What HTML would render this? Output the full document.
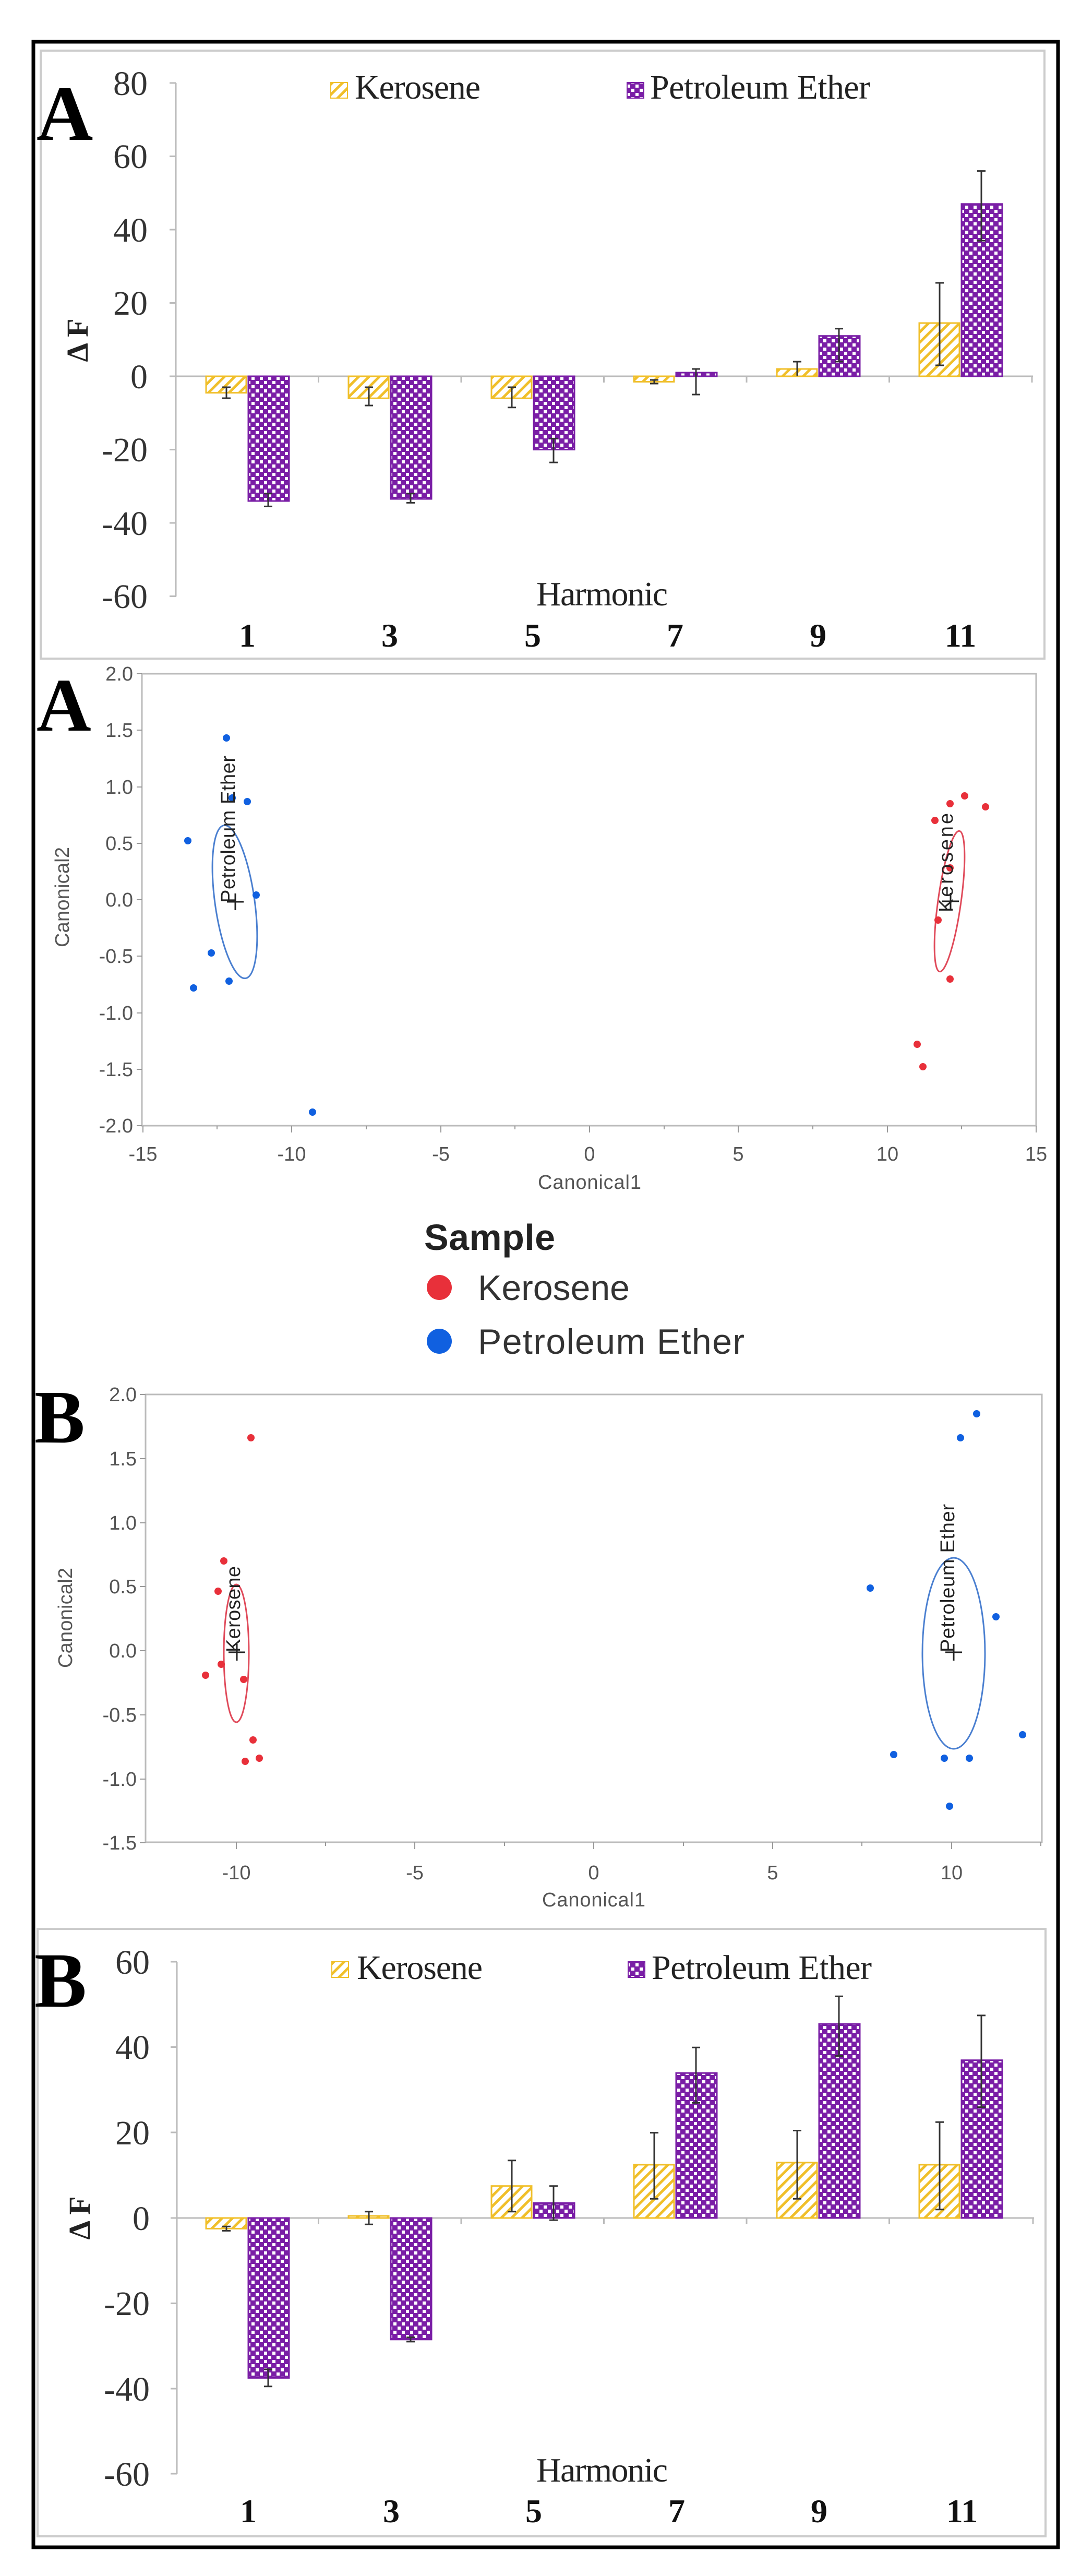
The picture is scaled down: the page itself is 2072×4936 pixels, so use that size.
<!DOCTYPE html>
<html><head><meta charset="utf-8"><style>html,body{margin:0;padding:0;background:#fff}svg{display:block}</style></head>
<body>
<svg width="2072" height="4936" viewBox="0 0 2072 4936" xmlns="http://www.w3.org/2000/svg">
<defs>
<pattern id="hat" patternUnits="userSpaceOnUse" width="14" height="14" patternTransform="rotate(45)">
<rect width="14" height="14" fill="#fff"/><rect x="0" y="0" width="5" height="14" fill="#f0bf2a"/></pattern>
<pattern id="chk" patternUnits="userSpaceOnUse" width="16" height="16">
<rect width="16" height="16" fill="#7a1ea6"/><rect x="2" y="2" width="6" height="6" fill="#fff"/><rect x="10" y="10" width="6" height="6" fill="#fff"/></pattern>
</defs>
<rect x="0" y="0" width="2072" height="4936" fill="#fff"/>
<rect x="64" y="80" width="1964" height="4801" fill="none" stroke="#000" stroke-width="7"/>
<!-- panel frames -->
<rect x="78" y="97" width="1924" height="1165" fill="none" stroke="#ccc" stroke-width="4"/>
<rect x="72" y="3696" width="1932" height="1164" fill="none" stroke="#ccc" stroke-width="4"/>

<!-- ========== Bar chart A ========== -->
<g font-family="Liberation Serif, serif" fill="#222">
<text x="70" y="268" font-size="150" font-weight="bold" fill="#000">A</text>
<g stroke="#bbb" stroke-width="3">
<line x1="337" y1="159" x2="337" y2="1143"/>
<line x1="325" y1="159" x2="337" y2="159"/><line x1="325" y1="299.5" x2="337" y2="299.5"/><line x1="325" y1="440" x2="337" y2="440"/><line x1="325" y1="580.5" x2="337" y2="580.5"/><line x1="325" y1="721" x2="337" y2="721"/><line x1="325" y1="861.5" x2="337" y2="861.5"/><line x1="325" y1="1002" x2="337" y2="1002"/><line x1="325" y1="1142.5" x2="337" y2="1142.5"/>
<line x1="337" y1="721" x2="1980" y2="721"/>
<line x1="610.5" y1="721" x2="610.5" y2="733"/><line x1="884" y1="721" x2="884" y2="733"/><line x1="1157.5" y1="721" x2="1157.5" y2="733"/><line x1="1431" y1="721" x2="1431" y2="733"/><line x1="1704.5" y1="721" x2="1704.5" y2="733"/><line x1="1978" y1="721" x2="1978" y2="733"/>
</g>
<g font-size="66" text-anchor="end" fill="#333">
<text x="283" y="182">80</text><text x="283" y="322">60</text><text x="283" y="463">40</text><text x="283" y="603">20</text><text x="283" y="744">0</text><text x="283" y="884">-20</text><text x="283" y="1025">-40</text><text x="283" y="1165">-60</text>
</g>
<text transform="translate(168,652) rotate(-90)" font-size="58" font-weight="bold" text-anchor="middle">Δ F</text>
<rect x="634" y="158" width="32" height="30" fill="url(#hat)" stroke="#f0bf2a" stroke-width="2"/>
<text x="680" y="189" font-size="66" textLength="241">Kerosene</text>
<rect x="1202" y="158" width="32" height="30" fill="url(#chk)" stroke="#7a1ea6" stroke-width="2"/>
<text x="1246" y="189" font-size="66" textLength="422">Petroleum Ether</text>
<g fill="url(#hat)" stroke="#f0bf2a" stroke-width="3">
<rect x="395" y="721" width="77" height="31.6"/><rect x="668" y="721" width="77" height="42.2"/><rect x="942" y="721" width="77" height="42.2"/><rect x="1215" y="721" width="77" height="10.5"/><rect x="1489" y="707" width="77" height="14"/><rect x="1762" y="619" width="77" height="102"/>
</g>
<g fill="url(#chk)" stroke="#7a1ea6" stroke-width="3">
<rect x="476" y="721" width="78" height="239"/><rect x="749" y="721" width="78" height="235"/><rect x="1023" y="721" width="78" height="140.5"/><rect x="1296" y="714" width="78" height="7"/><rect x="1570" y="643.7" width="78" height="77.3"/><rect x="1843" y="390.8" width="78" height="330.2"/>
</g>
<g stroke="#333" stroke-width="3">
<path d="M434 742V763M426 742H442M426 763H442"/>
<path d="M707 742V777M699 742H715M699 777H715"/>
<path d="M981 742V780.7M973 742H989M973 780.7H989"/>
<path d="M1254 728V735M1246 728H1262M1246 735H1262"/>
<path d="M1528 721V693M1520 693H1536"/>
<path d="M1801 700V542M1793 700H1809M1793 542H1809"/>
<path d="M514 945.8V970.4M506 945.8H522M506 970.4H522"/>
<path d="M787 945.8V963.4M779 945.8H795M779 963.4H795"/>
<path d="M1061 840.4V886.1M1053 840.4H1069M1053 886.1H1069"/>
<path d="M1334 707V756M1326 707H1342M1326 756H1342"/>
<path d="M1608 692.9V629.7M1600 692.9H1616M1600 629.7H1616"/>
<path d="M1881 461.1V327.6M1873 461.1H1889M1873 327.6H1889"/>
</g>
<text x="1154" y="1160" font-size="66" text-anchor="middle" textLength="252">Harmonic</text>
<g font-size="64" font-weight="bold" text-anchor="middle" fill="#111">
<text x="474" y="1239">1</text><text x="747" y="1239">3</text><text x="1021" y="1239">5</text><text x="1294" y="1239">7</text><text x="1568" y="1239">9</text><text x="1841" y="1239">11</text>
</g>
</g>

<!-- ========== Scatter A ========== -->
<g font-family="Liberation Sans, sans-serif" fill="#555">
<text x="70" y="1400" font-size="145" font-weight="bold" fill="#000" font-family="Liberation Serif, serif">A</text>
<rect x="272" y="1291" width="1714" height="866" fill="none" stroke="#bbb" stroke-width="3"/>
<g stroke="#999" stroke-width="2">
<path d="M262 1291H272M262 1399H272M262 1508H272M262 1616H272M262 1724H272M262 1832H272M262 1941H272M262 2049H272M262 2157H272"/>
<path d="M274 2157V2170M559 2157V2170M845 2157V2170M1130 2157V2170M1415 2157V2170M1701 2157V2170M1986 2157V2170"/>
<path d="M416 2157V2164M702 2157V2164M987 2157V2164M1273 2157V2164M1558 2157V2164M1843 2157V2164"/>
</g>
<g font-size="38" text-anchor="end">
<text x="255" y="1304">2.0</text><text x="255" y="1412">1.5</text><text x="255" y="1521">1.0</text><text x="255" y="1629">0.5</text><text x="255" y="1737">0.0</text><text x="255" y="1845">-0.5</text><text x="255" y="1954">-1.0</text><text x="255" y="2062">-1.5</text><text x="255" y="2170">-2.0</text>
</g>
<g font-size="38" text-anchor="middle">
<text x="274" y="2224">-15</text><text x="559" y="2224">-10</text><text x="845" y="2224">-5</text><text x="1130" y="2224">0</text><text x="1415" y="2224">5</text><text x="1701" y="2224">10</text><text x="1986" y="2224">15</text>
</g>
<text x="1130" y="2278" font-size="38" text-anchor="middle" textLength="198">Canonical1</text>
<text transform="translate(132,1719) rotate(-90)" font-size="38" text-anchor="middle" textLength="192">Canonical2</text>
<ellipse cx="450" cy="1728" rx="38" ry="148" transform="rotate(-8 450 1728)" fill="none" stroke="#4a7fd0" stroke-width="3"/>
<ellipse cx="1820" cy="1727" rx="22" ry="136" transform="rotate(8 1820 1727)" fill="none" stroke="#e04a5a" stroke-width="3"/>
<g fill="#1060e0">
<circle cx="434" cy="1414" r="7"/><circle cx="445" cy="1529" r="7"/><circle cx="474" cy="1536" r="7"/><circle cx="360" cy="1611" r="7"/><circle cx="491" cy="1715" r="7"/><circle cx="405" cy="1826" r="7"/><circle cx="371" cy="1893" r="7"/><circle cx="439" cy="1880" r="7"/><circle cx="599" cy="2131" r="7"/>
</g>
<g fill="#e8303a">
<circle cx="1792" cy="1572" r="7"/><circle cx="1821" cy="1540" r="7"/><circle cx="1849" cy="1525" r="7"/><circle cx="1889" cy="1546" r="7"/><circle cx="1821" cy="1663" r="7"/><circle cx="1798" cy="1763" r="7"/><circle cx="1821" cy="1876" r="7"/><circle cx="1758" cy="2001" r="7"/><circle cx="1769" cy="2044" r="7"/>
</g>
<g stroke="#222" stroke-width="3"><path d="M451 1712V1744M435 1728H467M1822 1711V1743M1806 1727H1838"/></g>
<text transform="translate(450,1730) rotate(-90)" font-size="38" fill="#222" textLength="282">Petroleum Ether</text>
<text transform="translate(1826,1748) rotate(-90)" font-size="38" fill="#222" textLength="190">Kerosene</text>
<!-- legend -->
<text x="813" y="2395" font-size="70" font-weight="bold" fill="#222" textLength="251">Sample</text>
<circle cx="842" cy="2467" r="24" fill="#e8303a"/>
<text x="916" y="2491" font-size="68" fill="#333" textLength="291">Kerosene</text>
<circle cx="842" cy="2570" r="24" fill="#1060e0"/>
<text x="916" y="2594" font-size="68" fill="#333" textLength="511">Petroleum Ether</text>
</g>

<!-- ========== Scatter B ========== -->
<g font-family="Liberation Sans, sans-serif" fill="#555">
<text x="66" y="2764" font-size="145" font-weight="bold" fill="#000" font-family="Liberation Serif, serif">B</text>
<rect x="279" y="2672" width="1718" height="858" fill="none" stroke="#bbb" stroke-width="3"/>
<g stroke="#999" stroke-width="2">
<path d="M268 2672H279M268 2795H279M268 2918H279M268 3040H279M268 3163H279M268 3286H279M268 3409H279M268 3531H279"/>
<path d="M453 3530V3543M795 3530V3543M1138 3530V3543M1481 3530V3543M1824 3530V3543"/>
<path d="M624 3530V3537M967 3530V3537M1310 3530V3537M1652 3530V3537M1995 3530V3537"/>
</g>
<g font-size="38" text-anchor="end">
<text x="262" y="2685">2.0</text><text x="262" y="2808">1.5</text><text x="262" y="2931">1.0</text><text x="262" y="3053">0.5</text><text x="262" y="3176">0.0</text><text x="262" y="3299">-0.5</text><text x="262" y="3422">-1.0</text><text x="262" y="3544">-1.5</text>
</g>
<g font-size="38" text-anchor="middle">
<text x="453" y="3601">-10</text><text x="795" y="3601">-5</text><text x="1138" y="3601">0</text><text x="1481" y="3601">5</text><text x="1824" y="3601">10</text>
</g>
<text x="1138" y="3653" font-size="38" text-anchor="middle" textLength="198">Canonical1</text>
<text transform="translate(138,3100) rotate(-90)" font-size="38" text-anchor="middle" textLength="192">Canonical2</text>
<ellipse cx="453" cy="3168" rx="24" ry="132" fill="none" stroke="#e04a5a" stroke-width="3"/>
<ellipse cx="1828" cy="3168" rx="60" ry="183" fill="none" stroke="#4a7fd0" stroke-width="3"/>
<g fill="#e8303a">
<circle cx="481" cy="2755" r="7"/><circle cx="429" cy="2991" r="7"/><circle cx="418" cy="3049" r="7"/><circle cx="424" cy="3189" r="7"/><circle cx="394" cy="3210" r="7"/><circle cx="467" cy="3218" r="7"/><circle cx="485" cy="3334" r="7"/><circle cx="470" cy="3375" r="7"/><circle cx="497" cy="3369" r="7"/>
</g>
<g fill="#1060e0">
<circle cx="1872" cy="2709" r="7"/><circle cx="1841" cy="2755" r="7"/><circle cx="1668" cy="3043" r="7"/><circle cx="1909" cy="3098" r="7"/><circle cx="1960" cy="3324" r="7"/><circle cx="1713" cy="3362" r="7"/><circle cx="1810" cy="3369" r="7"/><circle cx="1858" cy="3369" r="7"/><circle cx="1820" cy="3461" r="7"/>
</g>
<g stroke="#222" stroke-width="3"><path d="M454 3150V3182M438 3166H470M1828 3150V3182M1812 3166H1844"/></g>
<text transform="translate(460,3166) rotate(-90)" font-size="38" fill="#222" textLength="165">Kerosene</text>
<text transform="translate(1829,3166) rotate(-90)" font-size="38" fill="#222" textLength="284">Petroleum Ether</text>
</g>

<!-- ========== Bar chart B ========== -->
<g font-family="Liberation Serif, serif" fill="#222">
<text x="66" y="3845" font-size="150" font-weight="bold" fill="#000">B</text>
<g stroke="#bbb" stroke-width="3">
<line x1="339" y1="3759" x2="339" y2="4740"/>
<line x1="327" y1="3759" x2="339" y2="3759"/><line x1="327" y1="3922.5" x2="339" y2="3922.5"/><line x1="327" y1="4086" x2="339" y2="4086"/><line x1="327" y1="4250" x2="339" y2="4250"/><line x1="327" y1="4413.5" x2="339" y2="4413.5"/><line x1="327" y1="4577" x2="339" y2="4577"/><line x1="327" y1="4740" x2="339" y2="4740"/>
<line x1="339" y1="4250" x2="1982" y2="4250"/>
<line x1="610.5" y1="4250" x2="610.5" y2="4262"/><line x1="884" y1="4250" x2="884" y2="4262"/><line x1="1157.5" y1="4250" x2="1157.5" y2="4262"/><line x1="1431" y1="4250" x2="1431" y2="4262"/><line x1="1704.5" y1="4250" x2="1704.5" y2="4262"/><line x1="1980" y1="4250" x2="1980" y2="4262"/>
</g>
<g font-size="66" text-anchor="end" fill="#333">
<text x="287" y="3782">60</text><text x="287" y="3945">40</text><text x="287" y="4109">20</text><text x="287" y="4273">0</text><text x="287" y="4436">-20</text><text x="287" y="4600">-40</text><text x="287" y="4763">-60</text>
</g>
<text transform="translate(172,4250) rotate(-90)" font-size="58" font-weight="bold" text-anchor="middle">Δ F</text>
<rect x="636" y="3759" width="32" height="30" fill="url(#hat)" stroke="#f0bf2a" stroke-width="2"/>
<text x="684" y="3792" font-size="66" textLength="241">Kerosene</text>
<rect x="1204" y="3759" width="32" height="30" fill="url(#chk)" stroke="#7a1ea6" stroke-width="2"/>
<text x="1249" y="3792" font-size="66" textLength="422">Petroleum Ether</text>
<g fill="url(#hat)" stroke="#f0bf2a" stroke-width="3">
<rect x="395" y="4250" width="77" height="20.4"/><rect x="668" y="4246" width="77" height="4"/><rect x="942" y="4188.7" width="77" height="61.3"/><rect x="1215" y="4147.9" width="77" height="102.1"/><rect x="1489" y="4143.8" width="77" height="106.2"/><rect x="1762" y="4147.9" width="77" height="102.1"/>
</g>
<g fill="url(#chk)" stroke="#7a1ea6" stroke-width="3">
<rect x="476" y="4250" width="78" height="306.4"/><rect x="749" y="4250" width="78" height="232.8"/><rect x="1023" y="4221.4" width="78" height="28.6"/><rect x="1296" y="3972.2" width="78" height="277.8"/><rect x="1570" y="3878.3" width="78" height="371.7"/><rect x="1843" y="3947.7" width="78" height="302.3"/>
</g>
<g stroke="#333" stroke-width="3">
<path d="M434 4266.3V4274.5M426 4266.3H442M426 4274.5H442"/>
<path d="M707 4237.7V4262.3M699 4237.7H715M699 4262.3H715"/>
<path d="M981 4139.7V4237.7M973 4139.7H989M973 4237.7H989"/>
<path d="M1254 4086.6V4213.2M1246 4086.6H1262M1246 4213.2H1262"/>
<path d="M1528 4082.5V4213.2M1520 4082.5H1536M1520 4213.2H1536"/>
<path d="M1801 4066.2V4233.7M1793 4066.2H1809M1793 4233.7H1809"/>
<path d="M514 4540V4572.7M506 4540H522M506 4572.7H522"/>
<path d="M787 4478.8V4486.9M779 4478.8H795M779 4486.9H795"/>
<path d="M1061 4188.7V4254.1M1053 4188.7H1069M1053 4254.1H1069"/>
<path d="M1334 3923.2V4029.4M1326 3923.2H1342M1326 4029.4H1342"/>
<path d="M1608 3825.2V3939.5M1600 3825.2H1616M1600 3939.5H1616"/>
<path d="M1881 3861.9V4037.6M1873 3861.9H1889M1873 4037.6H1889"/>
</g>
<text x="1154" y="4755" font-size="66" text-anchor="middle" textLength="252">Harmonic</text>
<g font-size="64" font-weight="bold" text-anchor="middle" fill="#111">
<text x="476" y="4833">1</text><text x="750" y="4833">3</text><text x="1023" y="4833">5</text><text x="1297" y="4833">7</text><text x="1570" y="4833">9</text><text x="1844" y="4833">11</text>
</g>
</g>
</svg>
</body></html>
